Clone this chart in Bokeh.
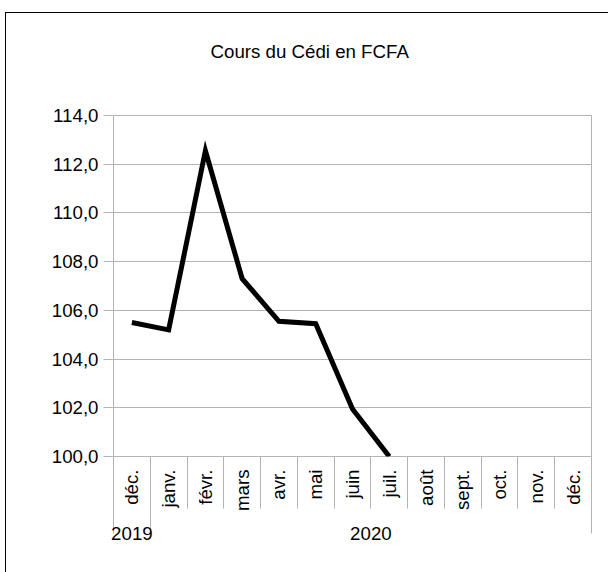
import math
import numpy as np
from bokeh.plotting import figure
from bokeh.models import FactorRange, Range1d, FixedTicker, LinearAxis, ColumnDataSource
from bokeh.embed import file_html
from bokeh.resources import INLINE

# ---- data ----
years = ["2019"] + ["2020"] * 12
months = ["déc.", "janv.", "févr.", "mars", "avr.", "mai", "juin", "juil.",
          "août", "sept.", "oct.", "nov.", "déc."]
cours = [105.5, 105.2, 112.55, 107.3, 105.55, 105.45, 101.95, 100.0,
         np.nan, np.nan, np.nan, np.nan, np.nan]
y_ticks = [100, 102, 104, 106, 108, 110, 112, 114]
y_tick_labels = ["100,0", "102,0", "104,0", "106,0", "108,0", "110,0", "112,0", "114,0"]
title = "Cours du Cédi en FCFA"

FONT = "Liberation Sans"
FS = "18.7px"
GRID = "#b3b3b3"

factors = list(zip(years, months))
n = len(factors)
src = ColumnDataSource(data=dict(x=factors, y=np.array(cours, dtype=float)))

p = figure(
    x_range=FactorRange(*factors, factor_padding=0, group_padding=0,
                        subgroup_padding=0, range_padding=0),
    y_range=Range1d(y_ticks[0], y_ticks[-1]),
    width=608, height=572,
    output_backend="svg", toolbar_location=None,
    min_border_left=113, min_border_right=17,
    min_border_top=115, min_border_bottom=116,
    title=title,
)
# outer chart border (left and top edges; right/bottom fall outside the window)
p.border_fill_color = None
p.background_fill_color = "white"
p.styles = {
    "background": ("linear-gradient(#000, #000) 5px 12px / 1px 100% no-repeat, "
                   "linear-gradient(#000, #000) 5px 12px / 100% 1px no-repeat, #fff"),
}

p.line(x="x", y="y", source=src, line_color="black", line_width=5, line_join="miter")

# frame / grid
p.outline_line_color = GRID
p.outline_line_width = 1
p.xgrid.grid_line_color = None
yt = FixedTicker(ticks=y_ticks)
p.ygrid.ticker = yt
p.ygrid.grid_line_color = GRID

# y axis
ya = p.yaxis[0]
ya.ticker = yt
ya.major_label_overrides = {t: l for t, l in zip(y_ticks, y_tick_labels)}
ya.axis_line_color = None
ya.major_tick_out = 10
ya.major_tick_in = 0
ya.major_tick_line_color = GRID
ya.minor_tick_line_color = None
ya.major_label_standoff = 5
ya.major_label_text_font = FONT
ya.major_label_text_font_size = FS
ya.major_label_text_color = "black"

# categorical x axis
xa = p.xaxis[0]
xa.axis_line_color = None
xa.major_tick_line_color = None
xa.major_tick_out = 0
xa.major_tick_in = 0
xa.minor_tick_line_color = None
xa.separator_line_color = None
xa.major_label_orientation = math.pi / 2
xa.major_label_standoff = 13
xa.major_label_text_font = FONT
xa.major_label_text_font_size = FS
xa.major_label_text_color = "black"
xa.group_text_font = FONT
xa.group_text_font_size = FS
xa.group_text_font_style = "normal"
xa.group_text_color = "black"

# separators between categories (group edges longer); positions are the
# factor range's synthetic coordinates (one unit per category)
group_edges = [0] + [i for i in range(1, n) if years[i] != years[i - 1]] + [n]
month_edges = [i for i in range(1, n) if i not in group_edges]
sep = LinearAxis(ticker=FixedTicker(ticks=group_edges, minor_ticks=month_edges),
                 axis_line_color=None,
                 major_label_text_color=None, major_label_text_font_size="0px",
                 major_tick_out=0, major_tick_in=-77,
                 minor_tick_out=0, minor_tick_in=-52,
                 major_tick_line_color=GRID, minor_tick_line_color=GRID)
p.add_layout(sep, "below")
p.below = [sep, xa]

# spacer axis above the frame (white, label-less) so the title sits higher up
spacer = LinearAxis(ticker=FixedTicker(ticks=[0]), axis_line_color=None,
                    major_label_text_color=None, major_label_text_font_size="0px",
                    major_tick_out=53, major_tick_in=0,
                    major_tick_line_color="white", minor_tick_line_color=None)
p.add_layout(spacer, "above")

# title
p.title.text_font = FONT
p.title.text_font_size = FS
p.title.text_font_style = "normal"
p.title.text_color = "black"
p.title.align = "left"
p.title.vertical_align = "middle"
p.title.offset = 97
p.title.standoff = 0

open("out.html", "w").write(file_html(p, INLINE))
